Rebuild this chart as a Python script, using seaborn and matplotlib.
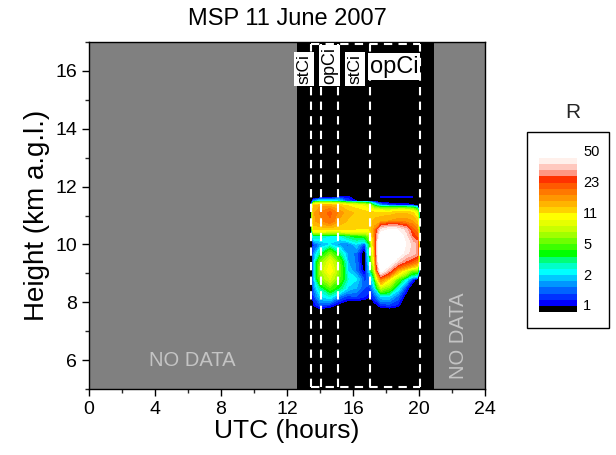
import numpy as np
import seaborn as sns
import matplotlib
matplotlib.use('Agg')
import matplotlib.pyplot as plt
from matplotlib.colors import ListedColormap, BoundaryNorm
from matplotlib.ticker import MultipleLocator
import matplotlib.cm as cm
import matplotlib.transforms as mtransforms

# ---------------- data ----------------
times = [13.45, 13.6, 14.0, 14.6, 15.2, 15.7, 16.2, 16.7, 17.0, 17.3, 17.7, 18.2, 18.7, 19.2, 19.6, 19.9, 20.05]
heights = [7.6, 7.9, 8.2, 8.5, 8.8, 9.1, 9.4, 9.7, 10.0, 10.3, 10.5, 10.8, 11.1, 11.35, 11.5, 11.65, 11.85]
R_rows = [
    [0.5, 0.5, 0.5, 0.5, 0.5, 0.5, 0.5, 0.5, 0.5, 0.5, 0.5, 0.5, 0.5, 0.5, 0.5, 0.5, 0.5],
    [0.5, 1.2, 1.6, 1.4, 1.0, 0.8, 0.7, 0.7, 0.7, 1.0, 1.4, 1.5, 1.3, 0.8, 0.5, 0.5, 0.5],
    [0.5, 1.5, 2.5, 3.0, 1.8, 1.5, 1.6, 1.4, 1.2, 1.6, 2.5, 2.5, 1.8, 1.0, 0.6, 0.5, 0.5],
    [0.5, 1.8, 3.5, 5.5, 4.0, 2.5, 2.2, 1.6, 1.5, 2.5, 8.0, 6.0, 3.0, 1.5, 0.8, 0.5, 0.5],
    [0.5, 2.0, 6.0, 9.0, 5.5, 3.0, 2.6, 1.5, 1.8, 4.0, 20., 12., 6.0, 3.0, 1.5, 1.0, 0.5],
    [0.5, 2.0, 7.0, 12., 6.0, 2.5, 1.8, 1.0, 2.5, 8.0, 55., 35., 16., 10., 6.0, 6.0, 0.5],
    [0.5, 2.0, 6.0, 10., 5.5, 2.2, 1.8, 0.8, 3.0, 12., 70., 60., 40., 30., 25., 20., 0.5],
    [0.5, 1.8, 3.5, 6.0, 3.5, 2.0, 1.8, 0.8, 3.5, 14., 75., 70., 60., 45., 40., 35., 0.5],
    [0.5, 1.5, 2.0, 2.5, 2.0, 1.8, 2.5, 1.5, 4.0, 16., 75., 80., 70., 50., 40., 35., 0.5],
    [0.5, 3.5, 3.5, 3.0, 3.0, 4.0, 4.5, 5.0, 7.0, 18., 60., 65., 60., 45., 30., 25., 0.5],
    [0.5, 12., 12., 12., 12., 12., 12., 12., 12., 18., 45., 52., 50., 40., 25., 20., 0.5],
    [0.5, 16., 18., 22., 16., 14., 14., 13., 13., 15., 16., 17., 18., 18., 17., 14., 0.5],
    [0.5, 16., 20., 24., 18., 15., 14., 13., 13., 13., 13., 13., 14., 14., 13., 9.0, 0.5],
    [0.5, 14., 16., 16., 14., 12., 11., 10., 8.0, 4.0, 2.0, 1.6, 1.4, 1.4, 1.3, 0.8, 0.5],
    [0.5, 2.0, 3.0, 3.0, 2.5, 1.5, 1.2, 1.0, 0.8, 0.8, 0.8, 0.8, 0.8, 0.8, 0.8, 0.5, 0.5],
    [0.5, 0.5, 0.5, 0.5, 1.25, 1.25, 0.5, 0.5, 0.5, 0.5, 1.25, 1.25, 1.25, 1.25, 1.25, 0.5, 0.5],
    [0.5, 0.5, 0.5, 0.5, 0.5, 0.5, 0.5, 0.5, 0.5, 0.5, 0.5, 0.5, 0.5, 0.5, 0.5, 0.5, 0.5],
]
lidar_span = (12.6, 20.9)
cloud_bounds = [13.45, 14.05, 15.1, 17.0, 20.06]
cloud_labels = ['stCi', 'opCi', 'stCi', 'opCi']
cbar_tick_labels = ['1', '2', '5', '11', '23', '50']
r_min, r_max, n_bands = 1.0, 50.0, 25

band_colors = [
    '#000000', '#0000ff', '#0032ff', '#0064ff', '#0096ff', '#00c8ff', '#00ffff',
    '#00ffc8', '#00ff78', '#00ff00', '#3cff00', '#6eff00', '#a0ff00', '#c8ff00',
    '#e6ff00', '#ffff00', '#ffd200', '#ffb400', '#ff9600', '#ff7800', '#ff5a00',
    '#ff3200', '#ff9682', '#ffc8be', '#fff0eb',
]

# ---------------- style ----------------
sns.set_theme(style='ticks')
plt.rcParams['font.family'] = ['Liberation Sans', 'DejaVu Sans']

fig = plt.figure(figsize=(6.16, 4.55), dpi=100)
ax = fig.add_axes([0.1445, 0.145, 0.6429, 0.7626])
ax.set_facecolor('#808080')
ax.axvspan(*lidar_span, color='black', lw=0, zorder=0)

levels = np.geomspace(r_min, r_max, n_bands + 1)
cmap = ListedColormap(band_colors)
cmap.set_over('#ffffff')
norm = BoundaryNorm(levels, cmap.N)
ax.contourf(times, heights, np.array(R_rows), levels=levels, cmap=cmap, norm=norm,
            extend='max', zorder=1)

# cloud segment dashed outlines
dash = (0, (4, 3))
y_lo, y_hi = 5.07, 16.93
ax.vlines(cloud_bounds, y_lo, y_hi, colors='white', linestyles=dash, lw=1.5, zorder=3)
ax.hlines([y_lo, y_hi], cloud_bounds[0], cloud_bounds[-1], colors='white',
          linestyles=dash, lw=1.5, zorder=3)

label_pos = [(13.03, 16.08, 90, 12.5), (14.58, 16.2, 90, 13), (16.12, 16.08, 90, 12.5),
             (18.48, 16.15, 0, 17)]
for lab, (x, y, rot, fs) in zip(cloud_labels, label_pos):
    ax.text(x, y, lab, rotation=rot, ha='center', va='center', fontsize=fs, color='black',
            bbox=dict(fc='white', ec='none', pad=1.5), zorder=4)

ax.text(6.24, 6.0, 'NO DATA', color='#c4c4c4', fontsize=14.5, ha='center', va='center')
ax.text(22.4, 6.84, 'NO DATA', color='#c4c4c4', fontsize=14.5, ha='center', va='center',
        rotation=90)

ax.set_xlim(0, 24)
ax.set_ylim(5, 17)
ax.set_xticks(range(0, 25, 4))
ax.set_yticks(range(6, 17, 2))
ax.xaxis.set_minor_locator(MultipleLocator(2))
ax.yaxis.set_minor_locator(MultipleLocator(1))
ax.tick_params(which='major', direction='out', length=5, width=1, labelsize=14,
               colors='black', top=False, right=False)
ax.tick_params(which='minor', direction='out', length=3, width=1, top=False, right=False)
for sp in ax.spines.values():
    sp.set_color('black')
    sp.set_linewidth(1)
ax.grid(False)

ax.set_title('MSP 11 June 2007', fontsize=17, pad=12, color='black')
ax.set_xlabel('UTC (hours)', fontsize=19, color='black', labelpad=1)
ax.set_ylabel('Height (km a.g.l.)', fontsize=20, color='black', labelpad=4)

# ---------------- colour bar ----------------
fig.patches.append(plt.Rectangle((0.8555, 0.2791), 0.1331, 0.4308, transform=fig.transFigure,
                                 fc='white', ec='black', lw=1, zorder=-1))
fig.text(0.930, 0.7538, 'R', ha='center', va='center', fontsize=15)

cax = fig.add_axes([0.875, 0.3143, 0.0617, 0.3385])
sm = cm.ScalarMappable(norm=norm, cmap=cmap)
cb = fig.colorbar(sm, cax=cax, spacing='uniform', extend='neither')
cb.outline.set_visible(False)
cb.set_ticks([])
cax.minorticks_off()
off = mtransforms.ScaledTranslation(0, 4 / 72, fig.dpi_scale_trans)
for i, lab in enumerate(cbar_tick_labels):
    cax.text(1.16, i * 5 / n_bands, lab, transform=cax.transAxes + off, ha='left',
             va='center', fontsize=10.5, color='black')

fig.savefig('out.png', dpi=100)
